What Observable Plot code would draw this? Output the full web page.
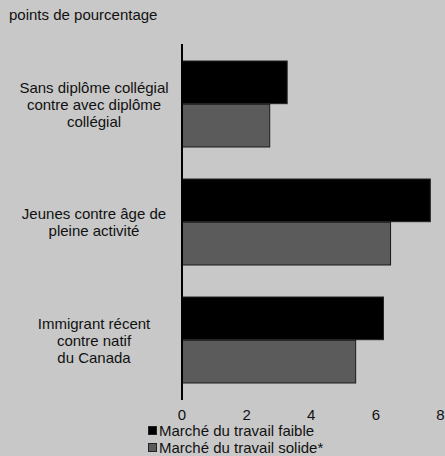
<!DOCTYPE html>
<html><head><meta charset="utf-8">
<script src="https://cdn.jsdelivr.net/npm/d3@7"></script>
<script src="https://cdn.jsdelivr.net/npm/@observablehq/plot@0.6"></script>
<style>
body{margin:0;background:#c8c8c8;font-family:"Liberation Sans",Arial,sans-serif;color:#111;width:445px;height:456px;overflow:hidden}
#title{font-size:15px;height:30px;line-height:30px;padding-left:9px}
#legend{margin-top:0;padding-left:148px;font-size:15px}
.row{height:17px;line-height:17px;display:flex;align-items:center}
.sw{width:9px;height:9px;margin-right:2px;box-sizing:border-box}
svg{display:block}
</style></head>
<body>
<div id="title">points de pourcentage</div>
<div id="chart"></div>
<div id="legend"></div>
<script>
const categories = [
  "Sans diplôme collégial\ncontre avec diplôme\ncollégial",
  "Jeunes contre âge de\npleine activité",
  "Immigrant récent\ncontre natif\ndu Canada"
];
const seriesNames = ["Marché du travail faible", "Marché du travail solide*"];
const faible = [3.27, 7.7, 6.25];
const solide = [2.73, 6.47, 5.39];
const xTicks = [0, 2, 4, 6, 8];
const colors = ["#000000", "#5b5b5b"];

const dataF = categories.map((c, i) => ({cat: c, v: faible[i]}));
const dataS = categories.map((c, i) => ({cat: c, v: solide[i]}));

const H = 392, MT = 14, MB = 22, PAD = 0.27;
const half = (H - MT - MB) / categories.length * (1 - PAD) / 2;

const chart = Plot.plot({
  width: 445, height: H,
  marginLeft: 181.5, marginRight: 5, marginTop: MT, marginBottom: MB,
  style: {background: "transparent", fontFamily: "'Liberation Sans', Arial, sans-serif", fontSize: "15px", color: "#111"},
  x: {domain: [0, 8], ticks: xTicks},
  y: {domain: categories, paddingInner: PAD, paddingOuter: PAD / 2},
  marks: [
    Plot.barX(dataF, {x: "v", y: "cat", fill: colors[0], stroke: "#222", strokeWidth: 1, insetBottom: half}),
    Plot.barX(dataS, {x: "v", y: "cat", fill: colors[1], stroke: "#1a1a1a", strokeWidth: 1, insetTop: half}),
    Plot.ruleX([0], {stroke: "#000", strokeWidth: 2}),
    Plot.axisX({ticks: xTicks, tickSize: 0, tickPadding: 9, fontSize: 15, label: null}),
    Plot.axisY({tickSize: 0, tickPadding: 88, textAnchor: "middle", lineHeight: 1.13, fontSize: 15, label: null})
  ]
});
document.getElementById("chart").appendChild(chart);

const lg = document.getElementById("legend");
seriesNames.forEach((n, i) => {
  const r = document.createElement("div"); r.className = "row";
  const s = document.createElement("div"); s.className = "sw";
  s.style.background = colors[i]; s.style.border = "1px solid #222";
  const t = document.createElement("span"); t.textContent = n;
  r.appendChild(s); r.appendChild(t); lg.appendChild(r);
});
</script>
</body></html>
